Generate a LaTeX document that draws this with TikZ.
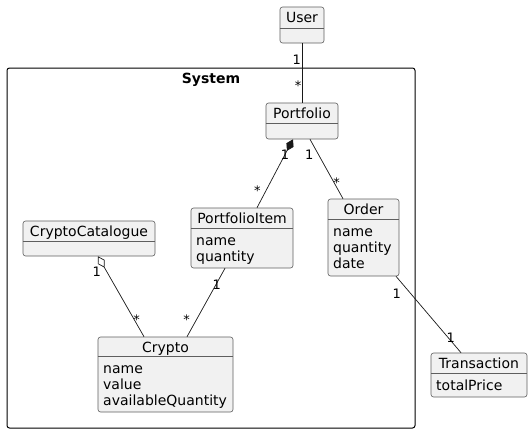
\documentclass[tikz,border=0pt]{standalone}
\usepackage{fontspec}
\setmainfont{DejaVu Sans}
\usetikzlibrary{arrows.meta}
\definecolor{clsfill}{HTML}{F1F1F1}
\definecolor{clsline}{HTML}{5E5E5E}
\definecolor{edgecol}{HTML}{181818}
\tikzset{
  cls/.style={draw=clsline, fill=clsfill, rounded corners=2.5pt, line width=0.6pt, inner sep=0pt},
  clsname/.style={anchor=base, inner sep=0pt, font=\fontsize{14}{16}\selectfont},
  attr/.style={anchor=base west, inner sep=0pt, font=\fontsize{14}{16}\selectfont},
  divider/.style={draw=clsline, line width=0.6pt},
  assoc/.style={draw=edgecol, line width=0.7pt},
  mult/.style={inner sep=0pt, font=\fontsize{13}{15}\selectfont},
  frame/.style={draw=black, line width=1pt, rounded corners=2.5pt, inner sep=0pt}
}
\begin{document}
\begin{tikzpicture}[x=1pt,y=-1pt]
\useasboundingbox (0,0) rectangle (532,434);
% system frame
\node[frame, minimum width=408pt, minimum height=360pt] (sys) at (211,248) {};
\node[anchor=base, inner sep=0pt, font=\fontsize{14}{16}\selectfont\bfseries] (systitle) at (211,83) {System};

% User
\node[cls, minimum width=44pt, minimum height=36pt] (user) at (302,25) {};
\draw[divider] (user.west |- 0,28) -- (user.east |- 0,28);
\node[clsname] (userT) at (302,22.5) {User};

% Portfolio
\node[cls, minimum width=72pt, minimum height=36pt] (portfolio) at (302,121) {};
\draw[divider] (portfolio.west |- 0,123) -- (portfolio.east |- 0,123);
\node[clsname] (portfolioT) at (302,118.5) {Portfolio};

% PortfolioItem
\node[cls, minimum width=102pt, minimum height=60pt] (pitem) at (242,238) {};
\draw[divider] (pitem.west |- 0,228) -- (pitem.east |- 0,228);
\node[clsname] (pitemT) at (242,223.5) {PortfolioItem};
\node[attr] (pitemA1) at (196,245) {name};
\node[attr] (pitemA2) at (196,261) {quantity};

% Order
\node[cls, minimum width=71pt, minimum height=77pt] (order) at (363.5,237.5) {};
\draw[divider] (order.west |- 0,219) -- (order.east |- 0,219);
\node[clsname] (orderT) at (363.5,214.5) {Order};
\node[attr] (orderA1) at (333,236) {name};
\node[attr] (orderA2) at (333,252) {quantity};
\node[attr] (orderA3) at (333,268) {date};

% CryptoCatalogue
\node[cls, minimum width=132pt, minimum height=35pt] (catalogue) at (89,238.5) {};
\draw[divider] (catalogue.west |- 0,241) -- (catalogue.east |- 0,241);
\node[clsname] (catalogueT) at (89,236.5) {CryptoCatalogue};

% Crypto
\node[cls, minimum width=135pt, minimum height=75pt] (crypto) at (165.5,374.5) {};
\draw[divider] (crypto.west |- 0,356) -- (crypto.east |- 0,356);
\node[clsname] (cryptoT) at (165.5,352.5) {Crypto};
\node[attr] (cryptoA1) at (103,373) {name};
\node[attr] (cryptoA2) at (103,389) {value};
\node[attr] (cryptoA3) at (103,405) {availableQuantity};

% Transaction
\node[cls, minimum width=96pt, minimum height=44pt] (trans) at (479,375) {};
\draw[divider] (trans.west |- 0,373) -- (trans.east |- 0,373);
\node[clsname] (transT) at (479,368.5) {Transaction};
\node[attr] (transA1) at (436,390) {totalPrice};

% connectors
\draw[assoc] (user.south) -- (portfolio.north);
\draw[assoc, {Diamond[length=13pt,width=8pt]}-] ([xshift=-9pt]portfolio.south) -- ([xshift=15pt]pitem.north);
\draw[assoc] ([xshift=8pt]portfolio.south) -- ([xshift=-20.5pt]order.north);
\draw[assoc] ([xshift=-17pt]pitem.south) -- ([xshift=21.5pt]crypto.north);
\draw[assoc, {Diamond[open,fill=white,length=13pt,width=8pt]}-] ([xshift=9pt]catalogue.south) -- ([xshift=-21.5pt]crypto.north);
\draw[assoc] ([xshift=32.5pt]order.south) -- ([xshift=-18pt]trans.north);

% multiplicities
\node[mult] (m1) at (296.7,59.3) {1};
\node[mult] (m2) at (298,86) {*};
\node[mult] (m3) at (285,155) {1};
\node[mult] (m4) at (257.3,190.7) {*};
\node[mult] (m5) at (309.3,155) {1};
\node[mult] (m6) at (336.7,182.7) {*};
\node[mult] (m7) at (216.7,285) {1};
\node[mult] (m8) at (186.7,320) {*};
\node[mult] (m9) at (96.7,271.7) {1};
\node[mult] (m10) at (136.7,319.3) {*};
\node[mult] (m11) at (396.7,293.3) {1};
\node[mult] (m12) at (450.7,337.7) {1};
\end{tikzpicture}
\end{document}
